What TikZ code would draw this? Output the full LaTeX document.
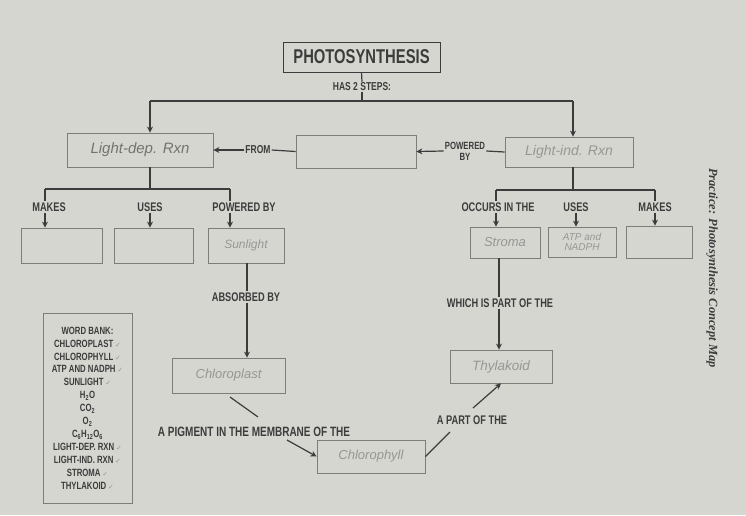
\documentclass[tikz,border=0pt]{standalone}
\usepackage{fontspec}
\setmainfont{Liberation Sans}
\newfontfamily\labfont[FakeStretch=0.74]{Liberation Sans}
\newfontfamily\handfont{Liberation Sans}
\newfontfamily\sidefont{Liberation Serif}
\newfontfamily\chk{DejaVu Sans}
\usetikzlibrary{arrows.meta}
\definecolor{paper}{RGB}{214,214,209}
\definecolor{ink}{RGB}{60,60,60}
\definecolor{boxc}{RGB}{125,125,122}
\definecolor{hand}{RGB}{150,150,148}
\definecolor{handd}{RGB}{115,115,112}
\tikzset{
  x=1pt,y=-1pt,
  conn/.style={draw=ink,line width=1.2pt},
  arr/.style={conn,-{Stealth[length=6pt,width=6pt]}},
  abox/.style={draw=boxc,line width=0.8pt,inner sep=0pt},
  lab/.style={text=ink,font=\labfont\bfseries\fontsize{12.5}{13}\selectfont,inner sep=1pt},
  ans/.style={text=hand,font=\handfont\itshape\fontsize{13}{14}\selectfont},
}
\newcommand{\tick}{\,{\color{hand}\chk\fontsize{7}{8}\selectfont ✓}}
\begin{document}
\begin{tikzpicture}
\fill[paper] (0,0) rectangle (746,515);
\useasboundingbox (0,0) rectangle (746,515);

% title
\node[abox,draw=ink,minimum width=157pt,minimum height=30pt,text=ink,font=\labfont\bfseries\fontsize{20}{21}\selectfont] (title) at (361.5,57) {PHOTOSYNTHESIS};
\node[lab,font=\labfont\bfseries\fontsize{11.5}{12}\selectfont] (has) at (362,87) {HAS 2 STEPS:};
\draw[conn] (title.south) -- (has.north);
\coordinate (tb) at (362,101);
\coordinate (tbL) at (150,101);
\coordinate (tbR) at (573,101);
\draw[conn] (has.south) -- (tb);
\draw[conn] (tbL) -- (tbR);

% step boxes
\node[abox,minimum width=146pt,minimum height=34pt,ans,text=handd,font=\handfont\itshape\fontsize{15}{16}\selectfont] (ld) at (140,150) {Light-dep. Rxn};
\node[abox,minimum width=120pt,minimum height=33pt] (src) at (356,151.5) {};
\node[abox,minimum width=128pt,minimum height=30pt,ans,font=\handfont\itshape\fontsize{14}{15}\selectfont] (li) at (569,152) {Light-ind. Rxn};
\draw[arr] (tbL) -- (ld.north -| tbL);
\draw[arr] (tbR) -- (li.north -| tbR);

\node[lab,font=\labfont\bfseries\fontsize{11.5}{12}\selectfont] (from) at (258,150) {FROM};
\draw[arr] (from.west) -- (ld.east);
\draw[conn] (from.east) -- (src.west);
\node[lab,align=center,font=\labfont\bfseries\fontsize{10.5}{11}\selectfont] (pow) at (465,151) {POWERED\\BY};
\draw[arr] (pow.west) -- (src.east);
\draw[conn] (pow.east) -- (li.west);

% left branch
\coordinate (lb) at (150,189);
\coordinate (l1) at (45,189);
\coordinate (l3) at (230,189);
\draw[conn] (ld.south -| lb) -- (lb);
\draw[conn] (l1) -- (l3);
\node[lab] (lmk) at (49,207) {MAKES};
\node[lab] (lus) at (150,207) {USES};
\node[lab] (lpw) at (244,207) {POWERED BY};
\draw[conn] (l1) -- (lmk.north -| l1);
\draw[conn] (l3) -- (lpw.north -| l3);
\node[abox,minimum width=81pt,minimum height=35pt] (b1) at (61.5,245.5) {};
\node[abox,minimum width=79pt,minimum height=35pt] (b2) at (153.5,245.5) {};
\node[abox,minimum width=76pt,minimum height=35pt,ans,font=\handfont\itshape\fontsize{12}{13}\selectfont] (sun) at (246,245.5) {Sunlight};
\draw[arr] (lmk.south -| l1) -- (b1.north -| l1);
\draw[arr] (lus.south) -- (b2.north -| lus);
\draw[arr] (lpw.south -| l3) -- (sun.north -| l3);

% right branch
\coordinate (r1) at (496,190);
\coordinate (r2) at (573,190);
\coordinate (r3) at (655,190);
\draw[conn] (li.south -| r2) -- (r2);
\draw[conn] (r1) -- (r3);
\node[lab] (occ) at (498,207) {OCCURS IN THE};
\node[lab] (rus) at (576,207) {USES};
\node[lab] (rmk) at (655,207) {MAKES};
\draw[conn] (r1) -- (occ.north -| r1);
\draw[conn] (r3) -- (rmk.north -| r3);
\node[abox,minimum width=70pt,minimum height=31pt,ans] (str) at (505,242.5) {Stroma};
\node[abox,minimum width=68pt,minimum height=30pt,ans,align=center,font=\handfont\itshape\fontsize{10}{10.5}\selectfont] (atp) at (582,242) {ATP and\\NADPH};
\node[abox,minimum width=66pt,minimum height=32pt] (rb) at (659,242) {};
\draw[arr] (occ.south -| r1) -- (str.north -| r1);
\draw[arr] (rus.south) -- (atp.north -| rus);
\draw[arr] (rmk.south -| r3) -- (rb.north -| r3);

% lower left
\node[lab] (abs) at (246,297) {ABSORBED BY};
\coordinate (sx) at (247,263);
\draw[conn] (sun.south -| sx) -- (abs.north -| sx);
\node[abox,minimum width=113pt,minimum height=35pt,ans] (cp) at (228.5,375.5) {Chloroplast};
\draw[arr] (abs.south -| sx) -- (cp.north -| sx);
\node[lab,font=\labfont\bfseries\fontsize{13.5}{14}\selectfont] (pig) at (254,432) {A PIGMENT IN THE MEMBRANE OF THE};
\coordinate (p1) at (230,397);
\coordinate (p2) at (258,417);
\coordinate (p3) at (287,440);
\draw[conn] (p1) -- (p2);
\node[abox,minimum width=108pt,minimum height=33pt,ans] (chl) at (371,456.5) {Chlorophyll};
\draw[arr] (p3) -- (chl.west);

% lower right
\node[lab] (which) at (500,303) {WHICH IS PART OF THE};
\coordinate (wx) at (499,258);
\draw[conn] (str.south -| wx) -- (which.north -| wx);
\node[abox,minimum width=102pt,minimum height=33pt,ans,font=\handfont\itshape\fontsize{13.5}{14}\selectfont] (thy) at (501,366.5) {Thylakoid};
\draw[arr] (which.south -| wx) -- (thy.north -| wx);
\node[lab] (apart) at (472,420) {A PART OF THE};
\coordinate (q1) at (450,432);
\coordinate (q2) at (473,408);
\draw[conn] (chl.east) -- (q1);
\draw[arr] (q2) -- (thy.south);

% word bank
\node[abox,minimum width=89pt,minimum height=190pt,text=ink,align=center,
  font=\labfont\bfseries\fontsize{10.5}{12.9}\selectfont] (wb) at (87.5,408)
 {WORD BANK:\\CHLOROPLAST\tick\\CHLOROPHYLL\tick\\ATP AND NADPH\tick\\SUNLIGHT\tick\\
  H\textsubscript{2}O\\CO\textsubscript{2}\\O\textsubscript{2}\\C\textsubscript{6}H\textsubscript{12}O\textsubscript{6}\\
  LIGHT-DEP. RXN\tick\\LIGHT-IND. RXN\tick\\STROMA\tick\\THYLAKOID\tick};

% side caption
\node[rotate=-90,text=ink,font=\sidefont\bfseries\itshape\fontsize{12.5}{13}\selectfont] (side) at (712,268) {Practice: Photosynthesis Concept Map};
\end{tikzpicture}
\end{document}
